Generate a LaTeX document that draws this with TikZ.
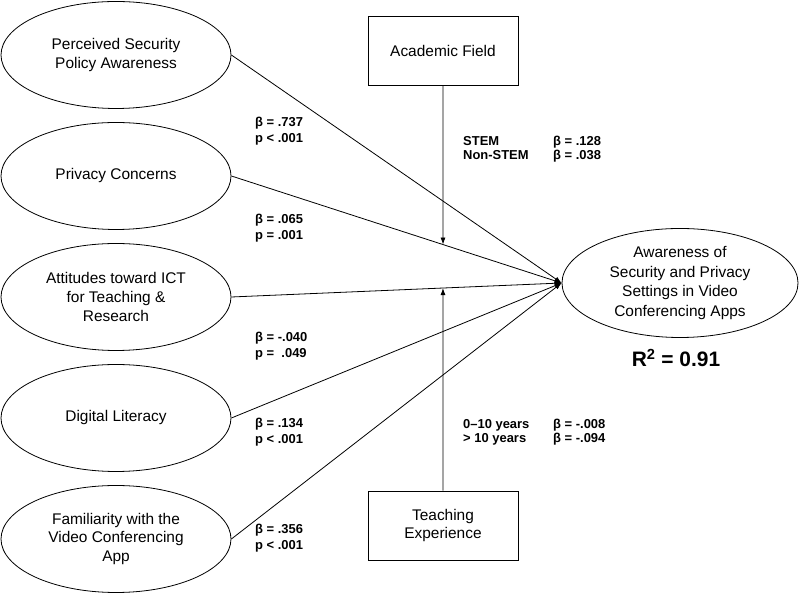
\documentclass[tikz,border=0pt]{standalone}
\usepackage{fontspec}
\setmainfont{Liberation Sans}
\usetikzlibrary{arrows.meta,shapes.geometric}

\begin{document}
\begin{tikzpicture}[
  x=1bp, y=1bp,
  every node/.style={align=center},
  construct/.style={draw,line width=0.8bp,ellipse,minimum width=230bp,minimum height=107bp,inner sep=0pt,font=\fontsize{15.5}{19}\selectfont},
  outcome/.style={construct,minimum width=236bp,minimum height=109bp,font=\fontsize{15.5}{19.5}\selectfont},
  moderator/.style={draw,line width=0.8bp,rectangle,minimum width=150bp,minimum height=69bp,inner sep=0pt,font=\fontsize{15.5}{19}\selectfont},
  coef/.style={anchor=west,align=left,inner sep=0pt,font=\bfseries\fontsize{13}{16}\selectfont},
  modcoef/.style={coef,font=\bfseries\fontsize{13}{14}\selectfont},
  effect/.style={-{Latex[length=7bp,width=5bp]},line width=0.8bp}]

  \useasboundingbox (0,0) rectangle (800,594);

  % Position the constructs
  \node[construct] (PSPA) at (116,539) {Perceived Security\\Policy Awareness};
  \node[construct] (PC) at (116,418) {Privacy Concerns};
  \node[construct] (ATT) at (116,297) {Attitudes toward ICT\\for Teaching \&\\Research};
  \node[construct] (DL) at (116,176) {Digital Literacy};
  \node[construct] (FAM) at (116,55) {Familiarity with the\\Video Conferencing\\App};
  \node[outcome] (ASPS) at (680,311) {Awareness of\\Security and Privacy\\Settings in Video\\Conferencing Apps};
  \node[font=\bfseries\fontsize{21}{25}\selectfont] (R2) at (676,236) {R\textsuperscript{2} = 0.91};

  % Moderators
  \node[moderator] (AF) at (443,543.5) {Academic Field};
  \node[moderator] (TE) at (443,68.5) {Teaching\\Experience};

  % Path coefficients
  \node[coef] (bPSPA) at (255,463) {β = .737\\p < .001};
  \node[coef] (bPC) at (255,365.5) {β = .065\\p = .001};
  \node[coef] (bATT) at (255,248) {β = -.040\\p = \ .049};
  \node[coef] (bDL) at (255,162) {β = .134\\p < .001};
  \node[coef] (bFAM) at (255,55.5) {β = .356\\p < .001};
  \node[modcoef] (bAF) at (463,444.5) {\begin{tabular}{@{}p{90bp}@{}l@{}}STEM & β = .128\\Non-STEM & β = .038\end{tabular}};
  \node[modcoef] (bTE) at (463,161) {\begin{tabular}{@{}p{90bp}@{}l@{}}0--10 years & β = -.008\\> 10 years & β = -.094\end{tabular}};

  % Draw the arrows into the outcome
  \draw[effect] (PSPA.east) -- (ASPS.west);
  \draw[effect] (PC.east) -- (ASPS.west);
  \draw[effect] (ATT.east) -- (ASPS.west);
  \draw[effect] (DL.east) -- (ASPS.west);
  \draw[effect] (FAM.east) -- (ASPS.west);
  % moderating arrows end on the paths
  \draw[effect] (AF.south) -- (intersection of AF.south--AF.north and PC.east--ASPS.west);
  \draw[effect] (TE.north) -- (intersection of TE.north--TE.south and ATT.east--ASPS.west);
\end{tikzpicture}
\end{document}
